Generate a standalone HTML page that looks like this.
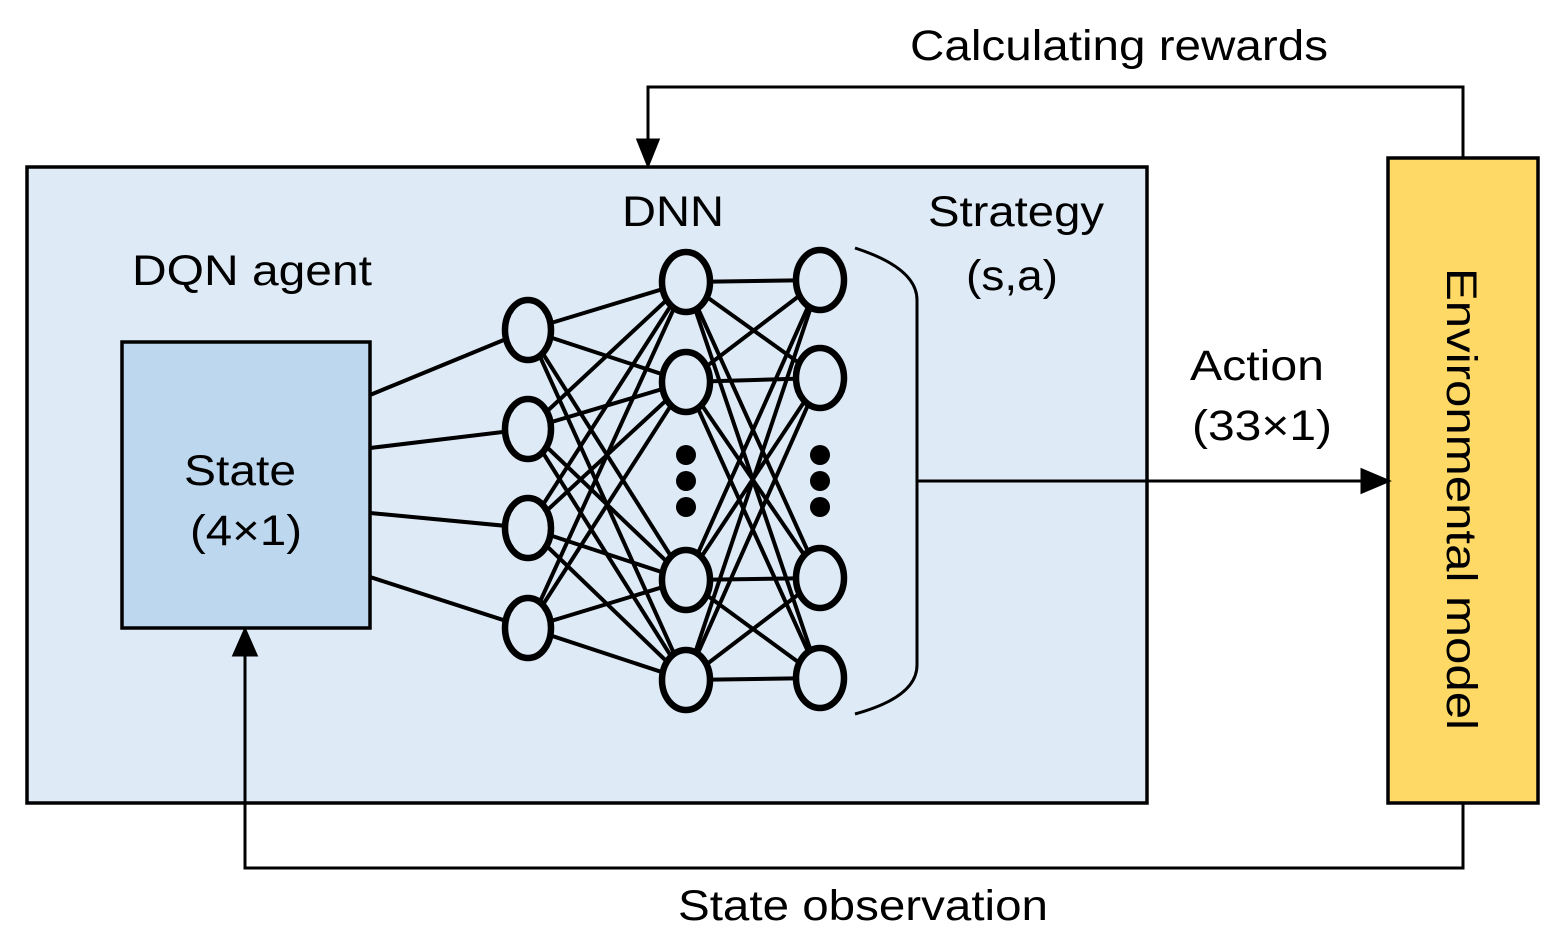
<!DOCTYPE html>
<html><head><style>body{margin:0;background:#fff}svg{display:block}text{font-family:"Liberation Sans",Arial,sans-serif;fill:#000}</style></head>
<body>
<svg width="1567" height="950" viewBox="0 0 1567 950" xmlns="http://www.w3.org/2000/svg">
<rect x="27" y="167" width="1120" height="636" fill="#deeaf6" stroke="#000" stroke-width="3.5"/>
<rect x="122" y="342" width="248" height="286" fill="#bdd7ee" stroke="#000" stroke-width="3.5"/>
<rect x="1388" y="158" width="150" height="645" fill="#ffd966" stroke="#000" stroke-width="3.5"/>
<g stroke="#000" stroke-width="3" fill="none">
<path d="M1463,158 V87 H648 V145"/>
<path d="M648,140 l-10,0 l10,25 l10,-25 z" fill="#000"/>
<path d="M1463,803 V868 H245 V655"/>
<path d="M245,630 l-11,25 l22,0 z" fill="#000"/>
<path d="M917,481 H1362"/>
<path d="M1388,481 l-26,-11 l0,22 z" fill="#000"/>
<path d="M855,248 Q917,268 917,300 V665 Q917,697 855,714"/>
</g>
<g stroke="#000" stroke-width="4">
<line x1="370" y1="395" x2="528" y2="330"/><line x1="370" y1="448" x2="528" y2="429"/><line x1="370" y1="513" x2="528" y2="528"/><line x1="370" y1="577" x2="528" y2="628"/>
<line x1="528" y1="330" x2="686" y2="282"/><line x1="528" y1="330" x2="686" y2="382"/><line x1="528" y1="330" x2="686" y2="580"/><line x1="528" y1="330" x2="686" y2="680"/>
<line x1="528" y1="429" x2="686" y2="282"/><line x1="528" y1="429" x2="686" y2="382"/><line x1="528" y1="429" x2="686" y2="580"/><line x1="528" y1="429" x2="686" y2="680"/>
<line x1="528" y1="528" x2="686" y2="282"/><line x1="528" y1="528" x2="686" y2="382"/><line x1="528" y1="528" x2="686" y2="580"/><line x1="528" y1="528" x2="686" y2="680"/>
<line x1="528" y1="628" x2="686" y2="282"/><line x1="528" y1="628" x2="686" y2="382"/><line x1="528" y1="628" x2="686" y2="580"/><line x1="528" y1="628" x2="686" y2="680"/>
<line x1="686" y1="282" x2="820" y2="280"/><line x1="686" y1="282" x2="820" y2="378"/><line x1="686" y1="282" x2="820" y2="578"/><line x1="686" y1="282" x2="820" y2="678"/>
<line x1="686" y1="382" x2="820" y2="280"/><line x1="686" y1="382" x2="820" y2="378"/><line x1="686" y1="382" x2="820" y2="578"/><line x1="686" y1="382" x2="820" y2="678"/>
<line x1="686" y1="580" x2="820" y2="280"/><line x1="686" y1="580" x2="820" y2="378"/><line x1="686" y1="580" x2="820" y2="578"/><line x1="686" y1="580" x2="820" y2="678"/>
<line x1="686" y1="680" x2="820" y2="280"/><line x1="686" y1="680" x2="820" y2="378"/><line x1="686" y1="680" x2="820" y2="578"/><line x1="686" y1="680" x2="820" y2="678"/>
</g>
<g fill="#deeaf6" stroke="#000" stroke-width="6.5">
<ellipse cx="528" cy="330" rx="23" ry="30"/><ellipse cx="528" cy="429" rx="23" ry="30"/><ellipse cx="528" cy="528" rx="23" ry="30"/><ellipse cx="528" cy="628" rx="23" ry="30"/>
<ellipse cx="686" cy="282" rx="24" ry="30"/><ellipse cx="686" cy="382" rx="24" ry="30"/><ellipse cx="686" cy="580" rx="24" ry="30"/><ellipse cx="686" cy="680" rx="24" ry="30"/>
<ellipse cx="820" cy="280" rx="24" ry="30"/><ellipse cx="820" cy="378" rx="24" ry="30"/><ellipse cx="820" cy="578" rx="24" ry="30"/><ellipse cx="820" cy="678" rx="24" ry="30"/>
</g>
<g fill="#000"><circle cx="686" cy="455" r="10"/><circle cx="686" cy="481" r="10"/><circle cx="686" cy="507" r="10"/><circle cx="820" cy="455" r="10"/><circle cx="820" cy="481" r="10"/><circle cx="820" cy="507" r="10"/></g>
<g font-size="43" lengthAdjust="spacingAndGlyphs">
<text x="910" y="60" textLength="418" lengthAdjust="spacingAndGlyphs">Calculating rewards</text>
<text x="622" y="226" textLength="102" lengthAdjust="spacingAndGlyphs">DNN</text>
<text x="928" y="226" textLength="176" lengthAdjust="spacingAndGlyphs">Strategy</text>
<text x="966" y="290" textLength="92" lengthAdjust="spacingAndGlyphs">(s,a)</text>
<text x="132" y="285" textLength="240" lengthAdjust="spacingAndGlyphs">DQN agent</text>
<text x="184" y="485" textLength="112" lengthAdjust="spacingAndGlyphs">State</text>
<text x="190" y="545" textLength="112" lengthAdjust="spacingAndGlyphs">(4×1)</text>
<text x="1190" y="380" textLength="134" lengthAdjust="spacingAndGlyphs">Action</text>
<text x="1192" y="440" textLength="140" lengthAdjust="spacingAndGlyphs">(33×1)</text>
<text x="678" y="920" textLength="370" lengthAdjust="spacingAndGlyphs">State observation</text>
<text x="1447" y="268" transform="rotate(90 1447 268)" textLength="462" lengthAdjust="spacingAndGlyphs">Environmental model</text>
</g>
</svg>
</body></html>
